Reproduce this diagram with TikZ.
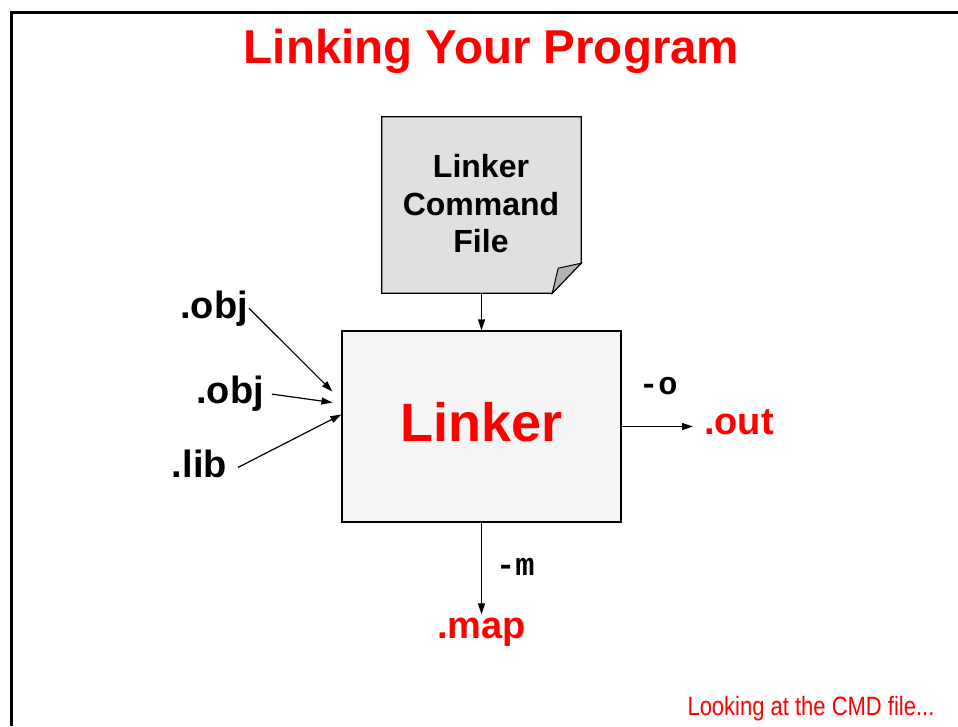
\documentclass[tikz,border=0pt]{standalone}
\usepackage{fontspec}
\setmainfont{Liberation Sans}
\setmonofont{Liberation Mono}
\newfontfamily\narrowfont[FakeStretch=0.83]{Liberation Sans}
\usetikzlibrary{arrows.meta, positioning, calc}
\definecolor{lnkred}{RGB}{255, 0, 0}
\definecolor{lnkbox}{RGB}{245, 245, 245}
\definecolor{lnkfile}{RGB}{224, 224, 224}
\definecolor{lnkfold}{RGB}{178, 178, 178}

\begin{document}
\begin{tikzpicture}[x=1pt, y=-1pt,
    arr/.style={-{Triangle[length=11pt, width=7pt]}, line width=1.2pt},
    lbl/.style={font=\fontsize{38}{40}\selectfont\bfseries, inner sep=1pt},
    outlbl/.style={lbl, text=lnkred},
    flag/.style={font=\fontsize{32}{36}\selectfont\ttfamily\bfseries, inner sep=0pt}]
    \useasboundingbox (0,0) rectangle (958,726);
    \draw[line width=3pt] (11,726) -- (11,12) -- (958,12);
    \node[anchor=base, text=lnkred, font=\fontsize{47.5}{50}\selectfont\bfseries]
      (title) at (491.5,63) {Linking Your Program};
    % command file with folded corner
    \node[minimum width=199pt, minimum height=176pt, inner sep=0pt] (cmd) at (481.5,205) {};
    \draw[fill=lnkfile, line width=1.2pt] (cmd.north west) -- (cmd.north east)
      -- ([yshift=30pt]cmd.south east) -- ([xshift=-29pt]cmd.south east)
      -- (cmd.south west) -- cycle;
    \draw[fill=lnkfold, line width=1pt] ([xshift=-29pt]cmd.south east)
      -- ([xshift=-23pt, yshift=25pt]cmd.south east) -- ([yshift=30pt]cmd.south east) -- cycle;
    \node[align=center, font=\fontsize{32}{37.5}\selectfont\bfseries] (cmdtext)
      at (481,204) {Linker\\Command\\File};
    \node[draw, fill=lnkbox, line width=1.2pt, minimum width=279pt, minimum height=191pt,
          text depth=10pt, text=lnkred, font=\fontsize{54}{60}\selectfont\bfseries]
      (linker) at (481.5,426.5) {Linker};
    \draw[arr] (cmd.south) -- (linker.north);
    % inputs
    \node[lbl, anchor=base east] (obj1) at (249,318) {.obj};
    \node[lbl, anchor=base east] (obj2) at (265,403) {.obj};
    \node[lbl, anchor=base east] (lib) at (228,477) {.lib};
    \coordinate (in1) at ([xshift=-9pt, yshift=35pt]linker.west);
    \coordinate (in2) at ([xshift=-9pt, yshift=24pt]linker.west);
    \coordinate (in3) at ([yshift=12pt]linker.west);
    \draw[arr] (obj1.east) -- (in1);
    \draw[arr, shorten <=7pt] (obj2.east) -- (in2);
    \draw[arr] ([xshift=10pt, yshift=-4pt]lib.east) -- (in3);
    % outputs
    \node[outlbl, anchor=base west] (out) at (703,434) {.out};
    \node[flag, anchor=base west] (optO) at (639,394) {-o};
    \draw[arr, shorten >=10pt] (linker.east) -- (linker.east -| out.west);
    \node[outlbl, anchor=base] (map) at (481.5,638) {.map};
    \node[flag, anchor=base west] (optM) at (496,575) {-m};
    \draw[arr, shorten >=2pt] (linker.south) -- (map.north);
    \node[anchor=base east, text=lnkred, font=\narrowfont\fontsize{26.5}{30}\selectfont]
      (next) at (938,715) {Looking at the CMD file...};
  \end{tikzpicture}
\end{document}
